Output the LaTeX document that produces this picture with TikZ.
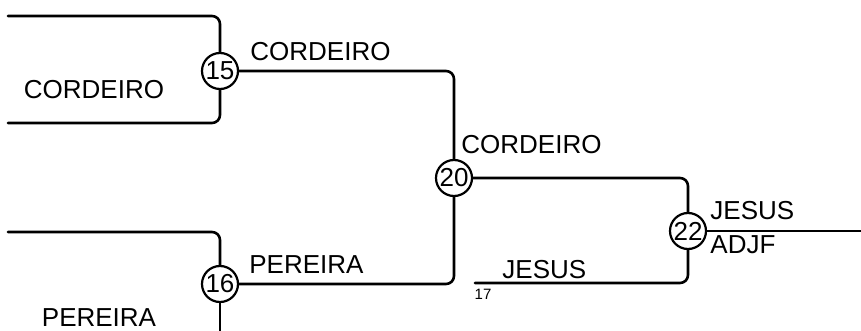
\documentclass[tikz,border=0pt]{standalone}
\usepackage{fontspec}
\setmainfont{Liberation Sans}
\usetikzlibrary{positioning}

\begin{document}
\begin{tikzpicture}[x=0.5pt, y=-0.5pt, line cap=round, line join=round,
    wire/.style={line width=1.3pt, rounded corners=4pt},
    joint/.style={circle, draw, line width=1.1pt, fill=white, minimum size=18pt,
      inner sep=0pt, font=\fontsize{13}{13}\selectfont},
    lbl/.style={inner sep=0pt, font=\fontsize{13}{13}\selectfont}]
  \useasboundingbox (0,0) rectangle (861,331);
  %--- Joints
    \node[joint] (n15) at (220, 71) {15};
    \node[joint] (n16) at (220, 284) {16};
    \node[joint] (n20) at (454, 178) {20};
    \node[joint] (n22) at (688, 231) {22};
  %--- Free ends
    \coordinate (c15a) at (8, 16);
    \coordinate (c15b) at (8, 123);
    \coordinate (c16a) at (8, 232);
    \coordinate (c16b) at (220, 331);
    \coordinate (c17) at (475, 283);
    \coordinate (cout) at (861, 231);
  %--- CORDEIRO
    \draw[wire] (c15a) -| (n15.north);
    \draw[wire] (c15b) -| (n15.south);
    \node[lbl] (tCord) at (94, 90) {CORDEIRO};
  %--- PEREIRA
    \draw[wire] (c16a) -| (n16.north);
    \draw[wire] (n16.south) -- (c16b);
    \node[lbl] (tPer) at (99, 318) {PEREIRA};
  %--- 15, 16 -> 20
    \draw[wire] (n15.east) -| (n20.north);
    \node[lbl, anchor=west] (t15) at (250, 52) {CORDEIRO};
    \draw[wire] (n16.east) -| (n20.south);
    \node[lbl, anchor=west] (t16) at (249, 265) {PEREIRA};
  %--- 20, 17 -> 22
    \draw[wire] (n20.east) -| (n22.north);
    \node[lbl, anchor=west] (t20) at (461, 145) {CORDEIRO};
    \draw[wire] (c17) -| (n22.south);
    \node[lbl, anchor=west] (t17) at (502, 270) {JESUS};
    \node[inner sep=0pt, font=\fontsize{7.5}{7.5}\selectfont] (n17) at (483, 294) {17};
  %--- 22 out
    \draw[wire] (n22.east) -- (cout);
    \node[lbl, anchor=west] (t22a) at (710, 211) {JESUS};
    \node[lbl, anchor=west] (t22b) at (710, 245) {ADJF};
\end{tikzpicture}
\end{document}
